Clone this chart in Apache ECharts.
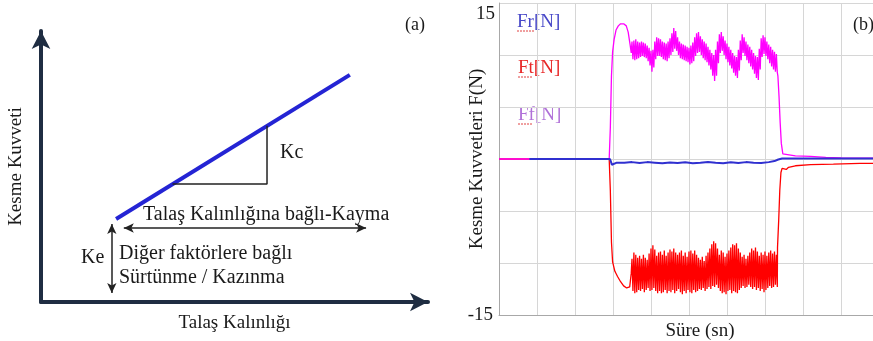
<!DOCTYPE html>
<html>
<head>
<meta charset="utf-8">
<script src="https://cdn.jsdelivr.net/npm/echarts@6/dist/echarts.min.js"></script>
<style>html,body{margin:0;padding:0;background:#fff}#c{width:873px;height:341px}</style>
</head>
<body>
<div id="c"></div>
<script>
// ---------- Panel (a): schematic (data units 0..100) ----------
const kLine = [[19.4, 30.6], [79.8, 83.8]];
const kcTriangle = [[34.0, 43.5], [58.4, 43.5], [58.4, 65.0]];
const shearArrow = [[21.4, 27.3], [84.0, 27.3]];
const keArrow = [[18.3, 28.8], [18.3, 3.3]];

// ---------- Panel (b): force signals ----------
const yTicks = [-15, 15];
const bandX = [3.50,3.55,3.60,3.65,3.70,3.75,3.80,3.85,3.90,3.95,
  4.00,4.05,4.10,4.15,4.20,4.25,4.30,4.35,4.40,4.45,
  4.50,4.55,4.60,4.65,4.70,4.75,4.80,4.85,4.90,4.95,
  5.00,5.05,5.10,5.15,5.20,5.25,5.30,5.35,5.40,5.45,
  5.50,5.55,5.60,5.65,5.70,5.75,5.80,5.85,5.90,5.95,
  6.00,6.05,6.10,6.15,6.20,6.25,6.30,6.35,6.40,6.45,
  6.50,6.55,6.60,6.65,6.70,6.75,6.80,6.85,6.90,6.95,
  7.00,7.05,7.10,7.15,7.20,7.25,7.30];

const ffLead = [[0,0],[2.90,0],[2.93,3.0],[2.96,8.0],[2.99,10.3],[3.03,11.5],[3.08,12.4],[3.14,12.8],[3.20,13.0],[3.28,13.0],[3.35,12.8],[3.40,12.2],[3.45,11.0],[3.48,10.2]];
const ffTop = [11.3,11.4,11.5,11.3,11.2,11.3,11.2,11.1,10.9,10.7,
  10.4,10.5,11.3,11.7,11.6,11.5,11.3,11.2,11.1,11.3,
  11.6,12.1,12.6,12.3,11.7,11.3,11.1,11.0,10.9,10.8,
  10.7,10.9,11.2,11.7,12.1,12.2,11.8,11.5,11.3,11.1,
  10.8,10.5,10.2,10.0,10.5,11.3,12.0,12.2,11.8,11.4,
  11.1,10.8,10.5,10.2,9.9,9.8,10.5,11.4,12.0,11.7,
  11.3,11.0,10.8,10.5,10.2,9.9,9.8,10.6,11.6,11.9,
  11.7,11.3,11.0,10.8,10.5,10.3,10.1];
const ffBottom = [9.6,9.5,9.6,9.7,9.8,9.9,9.8,9.7,9.4,9.0,
  8.4,8.8,9.6,9.9,9.9,9.8,9.6,9.5,9.4,9.7,
  10.0,10.3,10.6,10.4,10.0,9.7,9.6,9.5,9.4,9.3,
  9.1,9.2,9.4,9.9,10.2,10.3,10.0,9.7,9.5,9.3,
  9.0,8.6,8.0,7.5,8.0,9.2,10.2,10.4,10.0,9.6,
  9.3,9.0,8.7,8.3,8.0,7.8,8.5,9.5,10.2,9.9,
  9.5,9.2,8.9,8.6,8.2,7.8,7.6,8.6,9.8,10.1,
  9.9,9.6,9.2,8.9,8.6,8.4,8.3];
const ffTail = [[7.34,8.0],[7.37,6.0],[7.40,3.5],[7.43,1.5],[7.47,0.5],[7.52,0.35],[7.80,0.30],[8.20,0.25],[8.60,0.15],[9.00,0.10],[10.5,0.05]];

const ftLead = [[0,0],[2.90,0],[2.93,-3.0],[2.96,-8.0],[2.99,-9.9],[3.05,-10.8],[3.12,-11.3],[3.20,-11.8],[3.28,-12.2],[3.36,-12.4],[3.44,-12.3],[3.48,-11.0]];
const ftTop = [-9.6,-9.0,-9.2,-9.5,-9.3,-9.6,-9.2,-9.5,-9.7,-9.1,
  -8.6,-8.3,-8.7,-9.3,-9.0,-8.9,-9.2,-8.8,-9.3,-9.0,
  -8.7,-8.9,-8.6,-9.0,-9.2,-9.0,-8.8,-9.3,-9.0,-9.4,
  -8.9,-8.8,-9.1,-8.8,-9.2,-9.5,-9.7,-9.4,-9.8,-9.3,
  -9.0,-8.6,-8.2,-7.9,-8.1,-8.6,-9.2,-8.8,-9.0,-9.4,
  -9.1,-8.8,-8.5,-8.2,-8.3,-8.1,-8.6,-9.0,-9.4,-9.2,
  -9.6,-9.3,-9.0,-8.6,-8.8,-8.5,-8.9,-9.3,-9.0,-9.2,
  -8.9,-9.3,-9.0,-8.8,-9.1,-8.9,-9.2];
const ftBottom = [-12.7,-12.9,-12.8,-12.6,-12.7,-12.5,-12.8,-12.6,-12.4,-12.7,
  -12.6,-12.4,-12.7,-12.9,-12.7,-12.9,-12.8,-12.6,-12.9,-12.7,
  -12.8,-12.6,-12.9,-12.7,-12.5,-12.8,-13.0,-12.7,-12.9,-12.6,
  -12.8,-12.9,-12.6,-12.8,-12.7,-12.5,-12.6,-12.4,-12.7,-12.5,
  -12.3,-12.5,-12.2,-12.3,-12.1,-12.4,-12.7,-12.9,-12.8,-13.0,
  -12.7,-12.6,-12.9,-12.7,-12.8,-12.9,-12.6,-12.4,-12.2,-12.4,
  -12.3,-12.1,-12.3,-12.5,-12.3,-12.6,-12.4,-12.7,-12.5,-12.8,
  -12.6,-12.4,-12.2,-12.4,-12.3,-12.1,-12.3];
const ftTail = [[7.33,-8.5],[7.36,-6.0],[7.39,-3.0],[7.42,-1.3],[7.45,-0.9],[7.50,-0.85],[7.56,-1.0],[7.62,-0.8],[7.80,-0.65],[8.20,-0.55],[8.80,-0.5],[9.50,-0.42],[10.5,-0.4]];

const frData = [[0.8,0],[2.92,0],[2.95,-0.3],[2.97,-0.55],[3.00,-0.45],[3.10,-0.35],[3.30,-0.35],[3.50,-0.3],[3.70,-0.38],[3.90,-0.3],[4.10,-0.35],[4.30,-0.4],[4.50,-0.33],[4.70,-0.38],[4.90,-0.32],[5.10,-0.4],[5.30,-0.35],[5.50,-0.28],[5.70,-0.36],[5.90,-0.4],[6.10,-0.32],[6.30,-0.38],[6.50,-0.3],[6.70,-0.35],[6.90,-0.38],[7.10,-0.3],[7.25,-0.2],[7.35,-0.05],[7.45,0.05],[7.60,0.05],[8.50,0.05],[10.5,0.05]];

// zig-zag between read envelope values to render the dense noisy band
function band(lead, xs, top, bottom, tail) {
  const out = lead.slice();
  for (let i = 0; i < xs.length; i++) {
    out.push([xs[i], top[i]]);
    out.push([xs[i] + 0.025, bottom[i]]);
  }
  return out.concat(tail);
}

const FONT = "'Liberation Serif','DejaVu Serif',serif";
const chart = echarts.init(document.getElementById('c'), null, {renderer: 'canvas'});

function txt(x, y, text, opts) {
  opts = opts || {};
  return {type: 'text', x: x, y: y, silent: true, style: {text: text, fill: opts.color || '#1a1a1a', font: (opts.size || 19) + 'px ' + FONT, align: opts.align || 'left', verticalAlign: 'middle'}};
}
function squiggle(x1, x2, y) {
  return {type: 'line', silent: true, shape: {x1: x1, y1: y, x2: x2, y2: y}, style: {stroke: '#e04040', lineWidth: 1, lineDash: [2, 1]}};
}

const option = {
  animation: false,
  backgroundColor: '#ffffff',
  grid: [
    {left: 41, top: 31, width: 387, height: 271, outerBoundsMode: 'none', containLabel: false},
    {left: 499, top: 3, width: 402, height: 312, outerBoundsMode: 'none', containLabel: false}
  ],
  xAxis: [
    {gridIndex: 0, type: 'value', min: 0, max: 100,
      axisLine: {show: true, onZero: false, lineStyle: {color: '#1f2d42', width: 4}, symbol: ['none', 'arrow'], symbolSize: [14, 18]},
      axisTick: {show: false}, axisLabel: {show: false}, splitLine: {show: false},
      name: 'Talaş Kalınlığı', nameLocation: 'middle', nameGap: 12, nameMoveOverlap: false,
      nameTextStyle: {fontFamily: FONT, fontSize: 19, color: '#1a1a1a'}},
    {gridIndex: 1, type: 'value', min: 0, max: 10.58, interval: 1,
      axisLine: {show: true, onZero: false, lineStyle: {color: '#a8a8a8', width: 1}},
      axisTick: {show: false}, axisLabel: {show: false},
      splitLine: {show: true, lineStyle: {color: '#d6d6d6', width: 1}},
      name: 'Süre (sn)', nameLocation: 'middle', nameGap: 7, nameMoveOverlap: false,
      nameTextStyle: {fontFamily: FONT, fontSize: 19, color: '#1a1a1a'}}
  ],
  yAxis: [
    {gridIndex: 0, type: 'value', min: 0, max: 100,
      axisLine: {show: true, onZero: false, lineStyle: {color: '#1f2d42', width: 4}, symbol: ['none', 'arrow'], symbolSize: [14, 18]},
      axisTick: {show: false}, axisLabel: {show: false}, splitLine: {show: false},
      name: 'Kesme Kuvveti', nameLocation: 'middle', nameGap: 15, nameMoveOverlap: false,
      nameTextStyle: {fontFamily: FONT, fontSize: 19, color: '#1a1a1a'}},
    {gridIndex: 1, type: 'value', min: -15, max: 15, interval: 5,
      axisLine: {show: true, onZero: false, lineStyle: {color: '#a8a8a8', width: 1}},
      axisTick: {show: false},
      axisLabel: {margin: 6, fontFamily: FONT, fontSize: 19, color: '#1a1a1a',
        formatter: function (v) { return v === yTicks[0] ? String(v) : ''; }},
      splitLine: {show: true, lineStyle: {color: '#d6d6d6', width: 1}},
      name: 'Kesme Kuvvetleri F(N)', nameLocation: 'middle', nameGap: 12, nameMoveOverlap: false,
      nameTextStyle: {fontFamily: FONT, fontSize: 19, color: '#1a1a1a'}}
  ],
  series: [
    {type: 'line', xAxisIndex: 0, yAxisIndex: 0, data: kLine, symbol: 'none',
      lineStyle: {color: '#2424d4', width: 4}, silent: true},
    {type: 'line', xAxisIndex: 0, yAxisIndex: 0, data: kcTriangle, symbol: 'none',
      lineStyle: {color: '#222', width: 1.5}, silent: true,
      markLine: {silent: true, symbol: ['arrow', 'arrow'], symbolSize: [7, 10],
        label: {show: false}, lineStyle: {color: '#222', width: 1.5, type: 'solid'},
        data: [
          [{coord: shearArrow[0]}, {coord: shearArrow[1]}],
          [{coord: keArrow[0]}, {coord: keArrow[1]}]
        ]}},
    {name: 'Ft[N]', type: 'line', xAxisIndex: 1, yAxisIndex: 1, symbol: 'none',
      data: band(ftLead, bandX, ftTop, ftBottom, ftTail),
      lineStyle: {color: '#ff0000', width: 1.3}, silent: true},
    {name: 'Ff[N]', type: 'line', xAxisIndex: 1, yAxisIndex: 1, symbol: 'none',
      data: band(ffLead, bandX, ffTop, ffBottom, ffTail),
      lineStyle: {color: '#ff00ff', width: 1.3}, silent: true},
    {name: 'Fr[N]', type: 'line', xAxisIndex: 1, yAxisIndex: 1, symbol: 'none',
      data: frData, lineStyle: {color: '#3030d0', width: 2}, silent: true}
  ],
  graphic: [
    txt(415, 25, '(a)', {align: 'center', size: 18}),
    txt(280, 153, 'Kc', {size: 20}),
    txt(143, 215, 'Talaş Kalınlığına bağlı-Kayma', {size: 20}),
    txt(81, 258, 'Ke', {size: 20}),
    txt(119, 254, 'Diğer faktörlere bağlı', {size: 20}),
    txt(119, 278, 'Sürtünme / Kazınma', {size: 20}),
    txt(495, 14, String(yTicks[1]), {align: 'right'}),
    txt(517, 22, 'Fr[N]', {color: '#4848c8'}),
    txt(518, 68, 'Ft[N]', {color: '#e82828'}),
    txt(518, 115, 'Ff[N]', {color: '#b070d8'}),
    squiggle(517, 534, 31),
    squiggle(518, 533, 77),
    squiggle(518, 532, 124),
    txt(853, 25, '(b)', {size: 18})
  ]
};
chart.setOption(option);
</script>
</body>
</html>
